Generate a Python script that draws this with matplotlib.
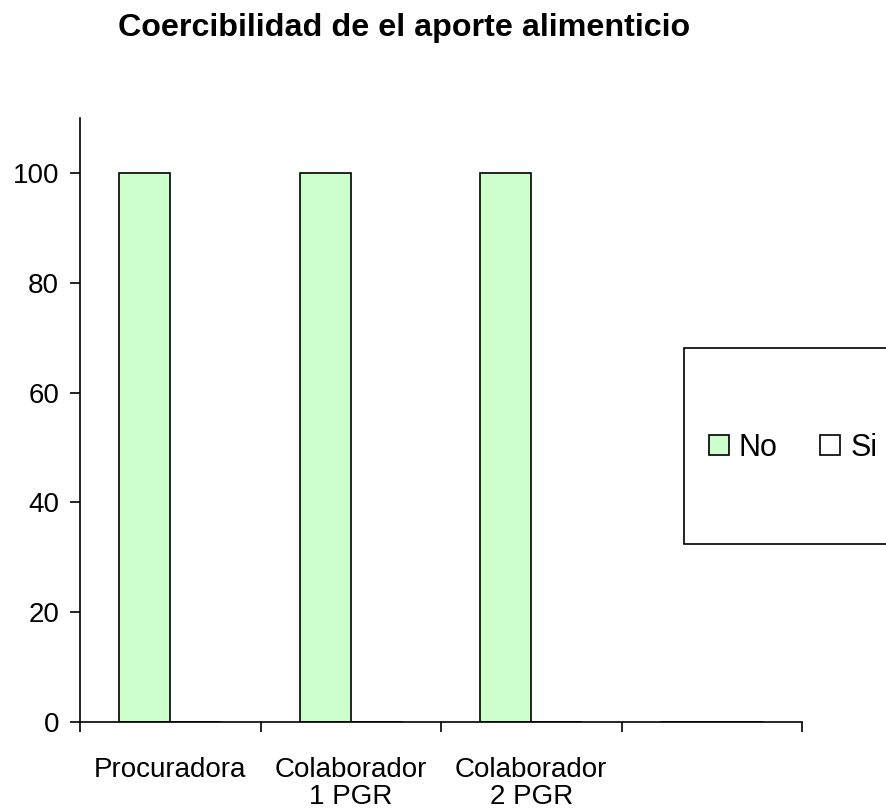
import matplotlib.pyplot as plt
import numpy as np
from matplotlib.patches import Rectangle

plt.rcParams['font.family'] = ['Liberation Sans', 'DejaVu Sans']

categories = ['Procuradora', 'Colaborador\n1 PGR', 'Colaborador\n2 PGR', '']
no_values = [100, 100, 100, 0]
si_values = [0, 0, 0, 0]
series_names = ['No', 'Si']
colors = ['#CCFFCC', '#FFFFFF']


def generate_chart():
    fig = plt.figure(figsize=(8.86, 8.11), dpi=100)
    ax = fig.add_axes([0.0903, 0.1097, 0.8149, 0.7448])

    x = np.arange(len(categories))
    width = 0.283
    bars_no = ax.bar(x - width / 2, no_values, width, color=colors[0],
                     edgecolor='black', linewidth=1.2, label=series_names[0])
    bars_si = ax.bar(x + width / 2, si_values, width, color=colors[1],
                     edgecolor='black', linewidth=1.2, label=series_names[1],
                     zorder=0.5)

    ax.set_xlim(-0.5, len(categories) - 0.5)
    ax.set_ylim(0, 110)
    ax.set_yticks([0, 20, 40, 60, 80, 100])

    ax.set_xticks(x)
    ax.set_xticklabels(categories, fontsize=20, linespacing=1.05)
    ax.set_xticks(np.arange(-0.5, len(categories), 1), minor=True)
    ax.tick_params(axis='x', which='major', length=0, pad=25)
    ax.tick_params(axis='x', which='minor', length=7, width=1.2, direction='out')
    ax.tick_params(axis='y', length=7, width=1.2, direction='out', labelsize=20, pad=8)

    for s in ['top', 'right']:
        ax.spines[s].set_visible(False)
    for s in ['left', 'bottom']:
        ax.spines[s].set_linewidth(1.2)

    fig.text(0.456, 0.966, 'Coercibilidad de el aporte alimenticio',
             fontsize=23.2, fontweight='bold', ha='center', va='center')

    # legend box, partly cut off at the right edge
    frame = Rectangle((0.772, 0.329), 0.3, 0.242, transform=fig.transFigure,
                      facecolor='white', edgecolor='black', linewidth=1.2,
                      clip_on=False)
    fig.patches.append(frame)
    fig.legend(handles=[bars_no, bars_si], labels=series_names, ncol=2,
               loc='center left', bbox_to_anchor=(0.800, 0.4476), frameon=False,
               fontsize=22, handlelength=0.65, handleheight=0.65,
               handletextpad=0.33, columnspacing=1.4,
               borderpad=0, borderaxespad=0)

    fig.savefig('out.png', dpi=100)


if __name__ == "__main__":
    generate_chart()
